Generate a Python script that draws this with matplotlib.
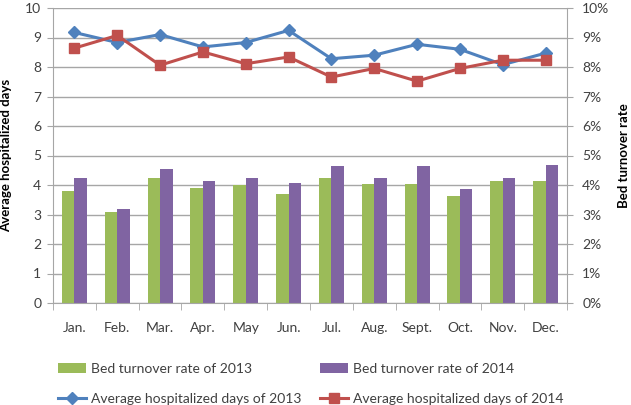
import matplotlib
matplotlib.use("Agg")
import matplotlib.pyplot as plt
from matplotlib.ticker import FuncFormatter, MultipleLocator, FixedLocator
import numpy as np

months = ["Jan.", "Feb.", "Mar.", "Apr.", "May", "Jun.", "Jul.", "Aug.", "Sept.", "Oct.", "Nov.", "Dec."]
days_2013 = [9.17, 8.83, 9.10, 8.68, 8.83, 9.24, 8.28, 8.40, 8.77, 8.60, 8.08, 8.47]
days_2014 = [8.64, 9.07, 8.06, 8.51, 8.11, 8.34, 7.66, 7.95, 7.52, 7.95, 8.23, 8.23]
turnover_2013 = [3.81, 3.10, 4.23, 3.89, 4.00, 3.71, 4.25, 4.05, 4.05, 3.62, 4.13, 4.13]
turnover_2014 = [4.23, 3.18, 4.54, 4.13, 4.23, 4.06, 4.63, 4.25, 4.66, 3.88, 4.23, 4.68]

plt.rcParams['font.family'] = ['Lato', 'DejaVu Sans']
FS = 10
GRID = '#A6A6A6'
TXT = '#404040'

fig = plt.figure(figsize=(6.31, 4.05), dpi=100)
ax = fig.add_axes([53/631, 1 - 303/405, (567-53)/631, (303-8)/405])
ax2 = ax.twinx()

x = np.arange(len(months))
w = 0.29
b1 = ax2.bar(x - w/2, turnover_2013, w, color='#9BBB59', zorder=2, label='Bed turnover rate of 2013')
b2 = ax2.bar(x + w/2, turnover_2014, w, color='#8064A2', zorder=2, label='Bed turnover rate of 2014')
ax2.set_ylim(0, 10)
ax2.yaxis.set_major_locator(MultipleLocator(1))
ax2.yaxis.set_major_formatter(FuncFormatter(lambda v, p: f"{int(round(v))}%"))
ax2.grid(axis='y', color=GRID, linewidth=1.0, zorder=0)
ax2.set_axisbelow(True)

l1, = ax.plot(x, days_2013, color='#4F81BD', lw=2.2, marker='D', markersize=6,
              label='Average hospitalized days of 2013', zorder=3)
l2, = ax.plot(x, days_2014, color='#C0504D', lw=2.2, marker='s', markersize=7,
              label='Average hospitalized days of 2014', zorder=4)
ax.set_ylim(0, 10)
ax.set_xlim(-0.5, len(months) - 0.5)
ax.yaxis.set_major_locator(MultipleLocator(1))
ax.set_zorder(ax2.get_zorder() + 1)
ax.patch.set_visible(False)

ax.set_xticks(x)
ax.set_xticklabels(months)
ax.xaxis.set_minor_locator(FixedLocator(np.arange(-0.5, len(months), 1.0)))
ax.tick_params(axis='x', which='major', length=0, pad=14, labelsize=FS, labelcolor=TXT)
ax.tick_params(axis='x', which='minor', length=5, color=GRID, direction='out')
ax.tick_params(axis='y', length=4, color=GRID, direction='out', labelsize=FS, labelcolor=TXT, pad=4.5)
ax2.tick_params(axis='y', length=4, color=GRID, direction='out', labelsize=FS, labelcolor=TXT, pad=7)

for a in (ax, ax2):
    for s in a.spines.values():
        s.set_visible(False)
ax.spines['left'].set_visible(True)
ax.spines['left'].set_color(GRID)
ax.spines['bottom'].set_visible(True)
ax.spines['bottom'].set_color(GRID)
ax2.spines['right'].set_visible(True)
ax2.spines['right'].set_color(GRID)

ax.set_ylabel('Average hospitalized days', fontsize=9.5, fontweight='bold')
ax.yaxis.set_label_coords((12 - 53) / 514, 0.5)
ax2.set_ylabel('Bed turnover rate', fontsize=9.5, fontweight='bold')
ax2.yaxis.set_label_coords((618 - 53) / 514, 0.5)

leg_kw = dict(frameon=False, fontsize=FS, handlelength=2.0, handletextpad=0.35,
              labelspacing=1.3, borderpad=0, borderaxespad=0, loc='upper left', labelcolor=TXT)
lg1 = fig.legend([b1, l1], [b1.get_label(), l1.get_label()],
                 bbox_to_anchor=(58/631, 1 - 363/405), **leg_kw)
lg2 = fig.legend([b2, l2], [b2.get_label(), l2.get_label()],
                 bbox_to_anchor=(320/631, 1 - 363/405), **leg_kw)

fig.savefig('out.png', dpi=100)
